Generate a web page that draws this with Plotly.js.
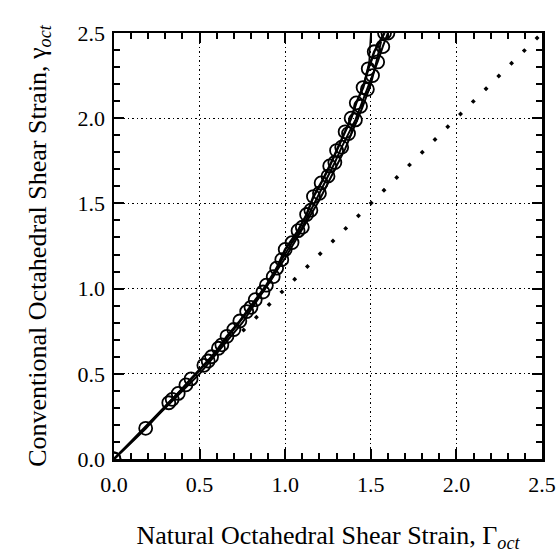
<!DOCTYPE html>
<html>
<head>
<meta charset="utf-8">
<script src="https://cdn.plot.ly/plotly-3.0.1.min.js"></script>
<style>html,body{margin:0;padding:0;background:#fff;}#chart{width:560px;height:560px;}</style>
</head>
<body>
<div id="chart"></div>
<script>
// Test series A (open circles + line)
const natA = [0, 0.185, 0.32, 0.375, 0.45, 0.525, 0.57, 0.61, 0.66, 0.735, 0.775, 0.825, 0.89, 0.95, 1.0, 1.075, 1.125, 1.165, 1.21, 1.26, 1.30, 1.35, 1.385, 1.415, 1.455, 1.485, 1.52, 1.58];
const convA = [0, 0.18, 0.33, 0.385, 0.47, 0.55, 0.60, 0.65, 0.72, 0.81, 0.865, 0.935, 1.02, 1.12, 1.23, 1.34, 1.435, 1.54, 1.62, 1.72, 1.81, 1.92, 2.0, 2.09, 2.18, 2.29, 2.39, 2.5];
// Test series B (open circles + line)
const natB = [0, 0.34, 0.42, 0.55, 0.63, 0.70, 0.80, 0.87, 0.93, 0.98, 1.04, 1.10, 1.15, 1.20, 1.25, 1.29, 1.33, 1.37, 1.41, 1.44, 1.48, 1.51, 1.54, 1.57, 1.60];
const convB = [0, 0.35, 0.435, 0.575, 0.67, 0.76, 0.89, 0.98, 1.07, 1.17, 1.27, 1.36, 1.46, 1.56, 1.66, 1.74, 1.83, 1.91, 1.99, 2.07, 2.17, 2.25, 2.33, 2.42, 2.5];
// Test series C (line only)
const natC = [0, 0.5, 0.75, 1.0, 1.2, 1.35, 1.45, 1.5, 1.53, 1.56];
const convC = [0, 0.5, 0.8, 1.18, 1.52, 1.82, 2.06, 2.2, 2.32, 2.45];
// Test series D (short line near top)
const natD = [1.46, 1.49, 1.5];
const convD = [2.2, 2.33, 2.5];
// Equality reference (dotted)
const natEq = [0.75, 2.5];
const convEq = [0.75, 2.5];
const tickVals = [0, 0.5, 1.0, 1.5, 2.0, 2.5];
const tickText = ['0.0', '0.5', '1.0', '1.5', '2.0', '2.5'];

const fontFam = '"Liberation Serif", "Times New Roman", serif';
const traces = [
  {x: natEq, y: convEq, mode: 'lines', line: {color: '#000', width: 3.5, dash: '3.5px,14.5px'}, hoverinfo: 'skip'},
  {x: natC, y: convC, mode: 'lines', line: {color: '#000', width: 2}},
  {x: natD, y: convD, mode: 'lines', line: {color: '#000', width: 1.5}},
  {x: natB, y: convB, mode: 'lines+markers', line: {color: '#000', width: 2},
   marker: {symbol: 'circle-open', size: 13, color: '#000', line: {width: 1.8, color: '#000'}}},
  {x: natA, y: convA, mode: 'lines+markers', line: {color: '#000', width: 2.5},
   marker: {symbol: 'circle-open', size: 13, color: '#000', line: {width: 1.8, color: '#000'}}}
];
const axisCommon = {
  range: [0, 2.5], tickvals: tickVals, ticktext: tickText,
  ticks: 'inside', ticklen: 10, tickwidth: 2, tickcolor: '#000',
  showline: true, linewidth: 2.5, linecolor: '#000', mirror: 'allticks',
  showgrid: true, gridcolor: '#000', gridwidth: 1, griddash: '1.5px,3px',
  zeroline: false,
  minor: {dtick: 0.1, tick0: 0, ticks: 'inside', ticklen: 6, tickwidth: 2, tickcolor: '#000', showgrid: false},
  tickfont: {family: fontFam, size: 22, color: '#000'}
};
const layout = {
  width: 560, height: 560,
  margin: {l: 114, r: 18, t: 33, b: 101},
  paper_bgcolor: '#fff', plot_bgcolor: '#fff',
  showlegend: false,
  font: {family: fontFam, color: '#000'},
  xaxis: Object.assign({}, axisCommon, {
    ticklabelstandoff: 4,
    title: {text: 'Natural Octahedral Shear Strain, Γ<sub><i>oct</i></sub>', font: {family: fontFam, size: 26, color: '#000'}, standoff: 30}
  }),
  yaxis: Object.assign({}, axisCommon, {
    ticklabelstandoff: 2,
    title: {text: 'Conventional Octahedral Shear Strain, γ<sub><i>oct</i></sub>', font: {family: fontFam, size: 26, color: '#000'}, standoff: 24}
  })
};
Plotly.newPlot('chart', traces, layout, {displayModeBar: false, staticPlot: true});
</script>
</body>
</html>
